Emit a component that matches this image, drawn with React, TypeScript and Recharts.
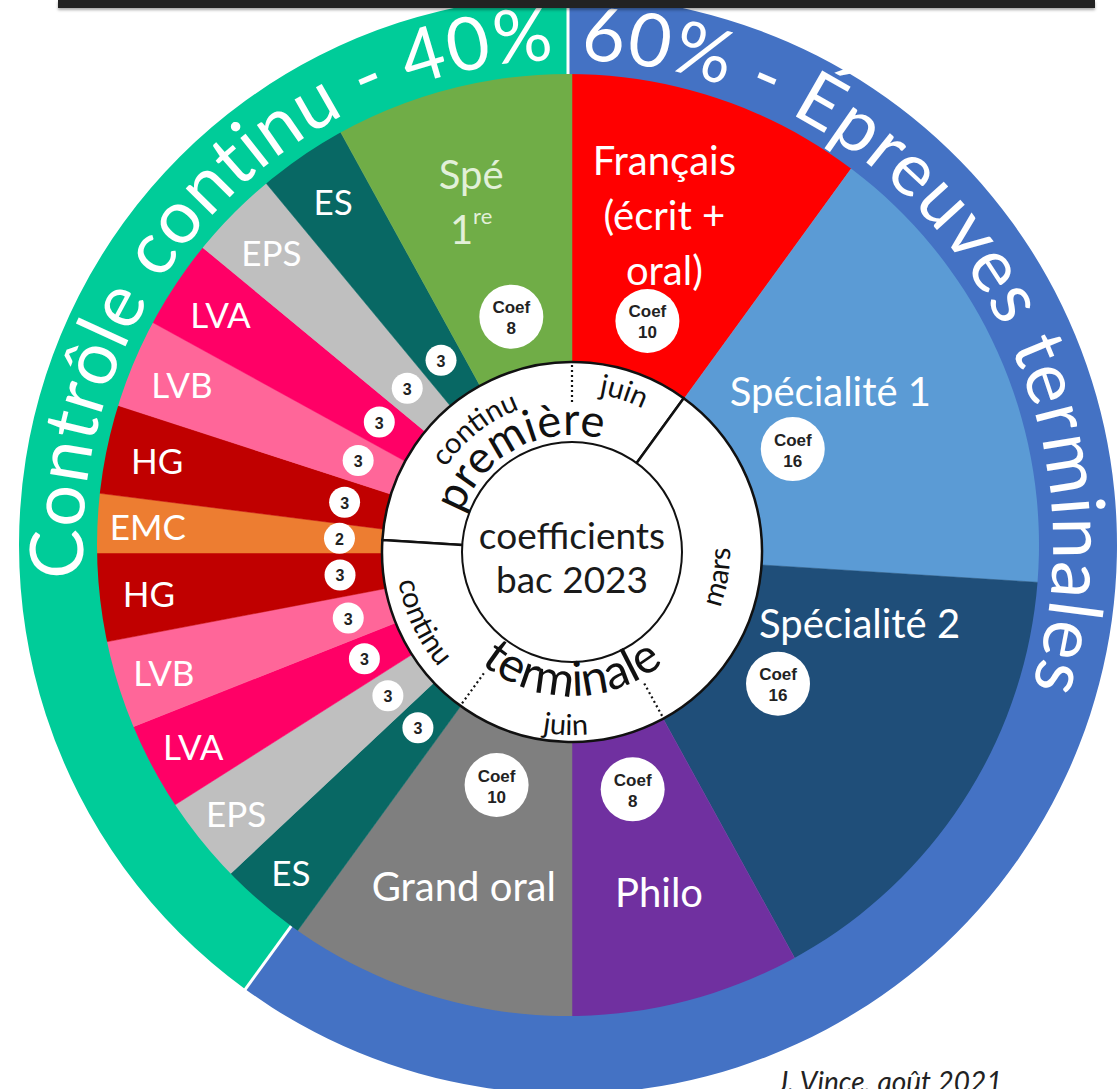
import { PieChart, Pie, Cell } from "recharts";

// coefficients du bac 2023, dans le sens des aiguilles d'une montre depuis midi
const subjects = [
  "Français\n(écrit +\noral)",
  "Spécialité 1",
  "Spécialité 2",
  "Philo",
  "Grand oral",
  "ES",
  "EPS",
  "LVA",
  "LVB",
  "HG",
  "EMC",
  "HG",
  "LVB",
  "LVA",
  "EPS",
  "ES",
  "Spé\n1^re",
];
const coefs = [10, 16, 16, 8, 10, 3, 3, 3, 3, 3, 2, 3, 3, 3, 3, 3, 8];

const ringLabels = ["60% - Épreuves terminales", "Contrôle continu - 40%"];
const ringShares = [60, 40];

const years = ["première", "terminale"];
const yearCoefs = [34, 66];

const periods = ["continu", "juin", "mars", "juin", "continu"];
const periodCoefs = [24, 10, 32, 18, 16];

const centerLines = ["coefficients", "bac 2023"];
const credit = "J. Vince, août 2021";

const sliceColors = [
  "#ff0000", "#5b9bd5", "#1f4e79", "#7030a0", "#7f7f7f",
  "#086864", "#bfbfbf", "#ff0066", "#ff6699", "#c00000",
  "#ed7d31", "#c00000", "#ff6699", "#ff0066", "#bfbfbf",
  "#086864", "#70ad47",
];
const ringColors = ["#4472c4", "#00cc99"];

const W = 1119;
const H = 1089;
const CX = 572;
const CY = 553;
const WCY = 552;
const FONT = "Lato, 'Open Sans', sans-serif";
const BADGE_FONT = "'Liberation Sans', Arial, sans-serif";
const RAD = Math.PI / 180;

const sliceData = subjects.map((name, i) => ({ name, value: coefs[i] }));
const ringData = ringLabels.map((name, i) => ({ name, value: ringShares[i] }));
const yearData = years.map((name, i) => ({ name, value: yearCoefs[i] }));
const periodData = periods.map((name, i) => ({ name, value: periodCoefs[i] }));
const centerData = [{ name: centerLines.join(" "), value: 1 }];

// première/terminale split in the middle of EMC
const totalCoef = coefs.reduce((a, b) => a + b, 0);
const emcIndex = subjects.indexOf("EMC");
const splitCoef = coefs.slice(0, emcIndex).reduce((a, b) => a + b, 0) + coefs[emcIndex] / 2;
const splitTheta = (splitCoef / totalCoef) * 360;
const yearStart = 90 - splitTheta;

// theta: degrees clockwise from 12 o'clock
const pt = (cx: number, cy: number, r: number, theta: number) => [
  cx + r * Math.sin(theta * RAD),
  cy - r * Math.cos(theta * RAD),
];

const arcD = (cx: number, cy: number, r: number, t1: number, t2: number) => {
  const [x1, y1] = pt(cx, cy, r, t1);
  const [x2, y2] = pt(cx, cy, r, t2);
  const sweep = t2 > t1 ? 1 : 0;
  const large = Math.abs(t2 - t1) > 180 ? 1 : 0;
  return `M ${x1} ${y1} A ${r} ${r} 0 ${large} ${sweep} ${x2} ${y2}`;
};

function ArcText(props: any) {
  const { id, cx, cy, r, theta, clockwise, text, fontSize, fill = "#111", span = 80 } = props;
  const d = clockwise
    ? arcD(cx, cy, r, theta - span, theta + span)
    : arcD(cx, cy, r, theta + span, theta - span);
  return (
    <g>
      <defs>
        <path id={id} d={d} />
      </defs>
      <text fontFamily={FONT} fontSize={fontSize} fill={fill}>
        <textPath href={`#${id}`} startOffset="50%" textAnchor="middle">
          {text}
        </textPath>
      </text>
    </g>
  );
}

const labelTweaks: Record<number, { r?: number; dTheta?: number }> = {
  0: { dTheta: -2.7 },
  1: { r: 305, dTheta: -6.9 },
  2: { r: 296, dTheta: -18.7 },
  16: { r: 366, dTheta: -1.6 },
};

const renderSliceLabel = (p: any) => {
  const { cx = CX, cy = CY, midAngle, index } = p;
  const coef = coefs[index];
  const big = coef >= 8;
  const mid = 90 - midAngle;
  const tw = labelTweaks[index] || {};
  const [tx, ty] = pt(cx, cy, tw.r ?? (big ? 350 : 425), mid + (tw.dTheta ?? 0));
  const lines = subjects[index].split("\n");
  const lh = 55;
  const fill = index === 16 ? "#e2f0d9" : "#ffffff";
  const [bx, by] = pt(cx, cy, big ? 244 : 233, mid);
  return (
    <g>
      {lines.map((line, i) => {
        const y = ty + (i - (lines.length - 1) / 2) * lh;
        const [base, sup] = line.split("^");
        return (
          <text
            key={i}
            x={tx}
            y={y}
            textAnchor="middle"
            dominantBaseline="central"
            fontFamily={FONT}
            fontSize={big ? 40 : 35}
            fill={fill}
          >
            {base}
            {sup && (
              <tspan fontSize={22} dy={-14}>
                {sup}
              </tspan>
            )}
          </text>
        );
      })}
      {big ? (
        <g>
          <circle cx={bx} cy={by} r={32} fill="#ffffff" />
          <text x={bx} y={by - 9} textAnchor="middle" dominantBaseline="central" fontFamily={BADGE_FONT} fontWeight="bold" fontSize={17} fill="#222">
            Coef
          </text>
          <text x={bx} y={by + 12} textAnchor="middle" dominantBaseline="central" fontFamily={BADGE_FONT} fontWeight="bold" fontSize={17} fill="#222">
            {coef}
          </text>
        </g>
      ) : (
        <g>
          <circle cx={bx} cy={by} r={15.5} fill="#ffffff" />
          <text x={bx} y={by + 1} textAnchor="middle" dominantBaseline="central" fontFamily={BADGE_FONT} fontWeight="bold" fontSize={16} fill="#222">
            {coef}
          </text>
        </g>
      )}
    </g>
  );
};

const renderRingLabel = (p: any) => {
  const { cx = 568, cy = 545, innerRadius, outerRadius, startAngle, index } = p;
  const r = innerRadius + 14;
  const start = 90 - startAngle;
  const [x1, y1] = pt(cx, cy, innerRadius, start);
  const [x2, y2] = pt(cx, cy, outerRadius + 2, start);
  const id = `ring-arc-${index}`;
  const d = index === 0 ? arcD(cx, cy, r, 1.5, 200) : arcD(cx, cy, r, 220, 358.5);
  return (
    <g>
      <line x1={x1} y1={y1} x2={x2} y2={y2} stroke="#ffffff" strokeWidth={3} />
      <defs>
        <path id={id} d={d} />
      </defs>
      <text fontFamily={FONT} fontSize={74} letterSpacing={1.2} fill="#ffffff">
        <textPath
          href={`#${id}`}
          startOffset={index === 0 ? "0%" : "100%"}
          textAnchor={index === 0 ? "start" : "end"}
        >
          {ringLabels[index]}
        </textPath>
      </text>
    </g>
  );
};

const renderYearLabel = (p: any) => {
  const { cx = CX, cy = WCY, index } = p;
  if (index === 0) {
    return (
      <ArcText id="year-0" cx={cx} cy={cy} r={117} theta={332} clockwise text={years[0]} fontSize={45} />
    );
  }
  return (
    <ArcText id="year-1" cx={cx} cy={cy} r={144} theta={180} clockwise={false} text={years[1]} fontSize={48} />
  );
};

const periodPlacement = [
  { r: 152, dTheta: 5, clockwise: true },
  { r: 160, dTheta: 0, clockwise: true },
  { r: 158, dTheta: 6, clockwise: false },
  { r: 183, dTheta: -1.5, clockwise: false },
  { r: 176, dTheta: 0, clockwise: false },
];
const dottedStarts = [1, 3, 4];

const renderPeriodLabel = (p: any) => {
  const { cx = CX, cy = WCY, midAngle, startAngle, innerRadius, outerRadius, index } = p;
  const place = periodPlacement[index];
  const start = 90 - startAngle;
  const [x1, y1] = pt(cx, cy, innerRadius + 40, start);
  const [x2, y2] = pt(cx, cy, outerRadius, start);
  return (
    <g>
      {dottedStarts.includes(index) && (
        <line x1={x1} y1={y1} x2={x2} y2={y2} stroke="#111" strokeWidth={2.2} strokeDasharray="2 3" />
      )}
      <ArcText
        id={`period-${index}`}
        cx={cx}
        cy={cy}
        r={place.r}
        theta={90 - midAngle + place.dTheta}
        clockwise={place.clockwise}
        text={periods[index]}
        fontSize={29}
      />
    </g>
  );
};

const renderCenterLabel = (p: any) => {
  const { cx = CX, cy = WCY, outerRadius } = p;
  return (
    <g>
      <circle cx={cx} cy={cy} r={outerRadius} fill="none" stroke="#111" strokeWidth={2} />
      {centerLines.map((line, i) => (
        <text
          key={i}
          x={cx}
          y={cy - 18 + i * 44}
          textAnchor="middle"
          dominantBaseline="central"
          fontFamily={FONT}
          fontSize={37}
          fill="#1a1a1a"
        >
          {line}
        </text>
      ))}
    </g>
  );
};

export default function App() {
  return (
    <div style={{ position: "absolute", left: 0, top: 0, width: W, height: H, overflow: "hidden", background: "#fff" }}>
      <PieChart width={W} height={H} margin={{ top: 0, right: 0, bottom: 0, left: 0 }}>
        <Pie
          data={sliceData}
          dataKey="value"
          cx={CX}
          cy={CY}
          innerRadius={0}
          outerRadius={490}
          startAngle={90}
          endAngle={-270}
          label={renderSliceLabel}
          labelLine={false}
          isAnimationActive={false}
        >
          {sliceData.map((_, i) => (
            <Cell key={i} fill={sliceColors[i]} stroke={sliceColors[i]} strokeWidth={0.5} />
          ))}
        </Pie>
        <Pie
          data={ringData}
          dataKey="value"
          cx={568}
          cy={545}
          innerRadius={471}
          outerRadius={549}
          startAngle={90}
          endAngle={-270}
          label={renderRingLabel}
          labelLine={false}
          isAnimationActive={false}
        >
          {ringData.map((_, i) => (
            <Cell key={i} fill={ringColors[i]} stroke="none" />
          ))}
        </Pie>
        <Pie
          data={yearData}
          dataKey="value"
          cx={CX}
          cy={WCY}
          innerRadius={0}
          outerRadius={190}
          startAngle={yearStart}
          endAngle={yearStart - 360}
          fill="#ffffff"
          stroke="#111"
          strokeWidth={2.5}
          label={renderYearLabel}
          labelLine={false}
          isAnimationActive={false}
        />
        <Pie
          data={periodData}
          dataKey="value"
          cx={CX}
          cy={WCY}
          innerRadius={110}
          outerRadius={190}
          startAngle={yearStart}
          endAngle={yearStart - 360}
          fill="none"
          stroke="none"
          label={renderPeriodLabel}
          labelLine={false}
          isAnimationActive={false}
        />
        <Pie
          data={centerData}
          dataKey="value"
          cx={CX}
          cy={WCY}
          innerRadius={0}
          outerRadius={110}
          fill="#ffffff"
          stroke="none"
          label={renderCenterLabel}
          labelLine={false}
          isAnimationActive={false}
        />
      </PieChart>
      <div
        style={{
          position: "absolute",
          left: 58,
          top: 0,
          width: 1037,
          height: 8,
          background: "#222",
          boxShadow: "0 2px 3px rgba(0,0,0,0.35)",
        }}
      />
      <div
        style={{
          position: "absolute",
          left: 777,
          top: 1064,
          fontFamily: FONT,
          fontStyle: "italic",
          fontSize: 28,
          color: "#222",
          whiteSpace: "nowrap",
        }}
      >
        {credit}
      </div>
    </div>
  );
}
